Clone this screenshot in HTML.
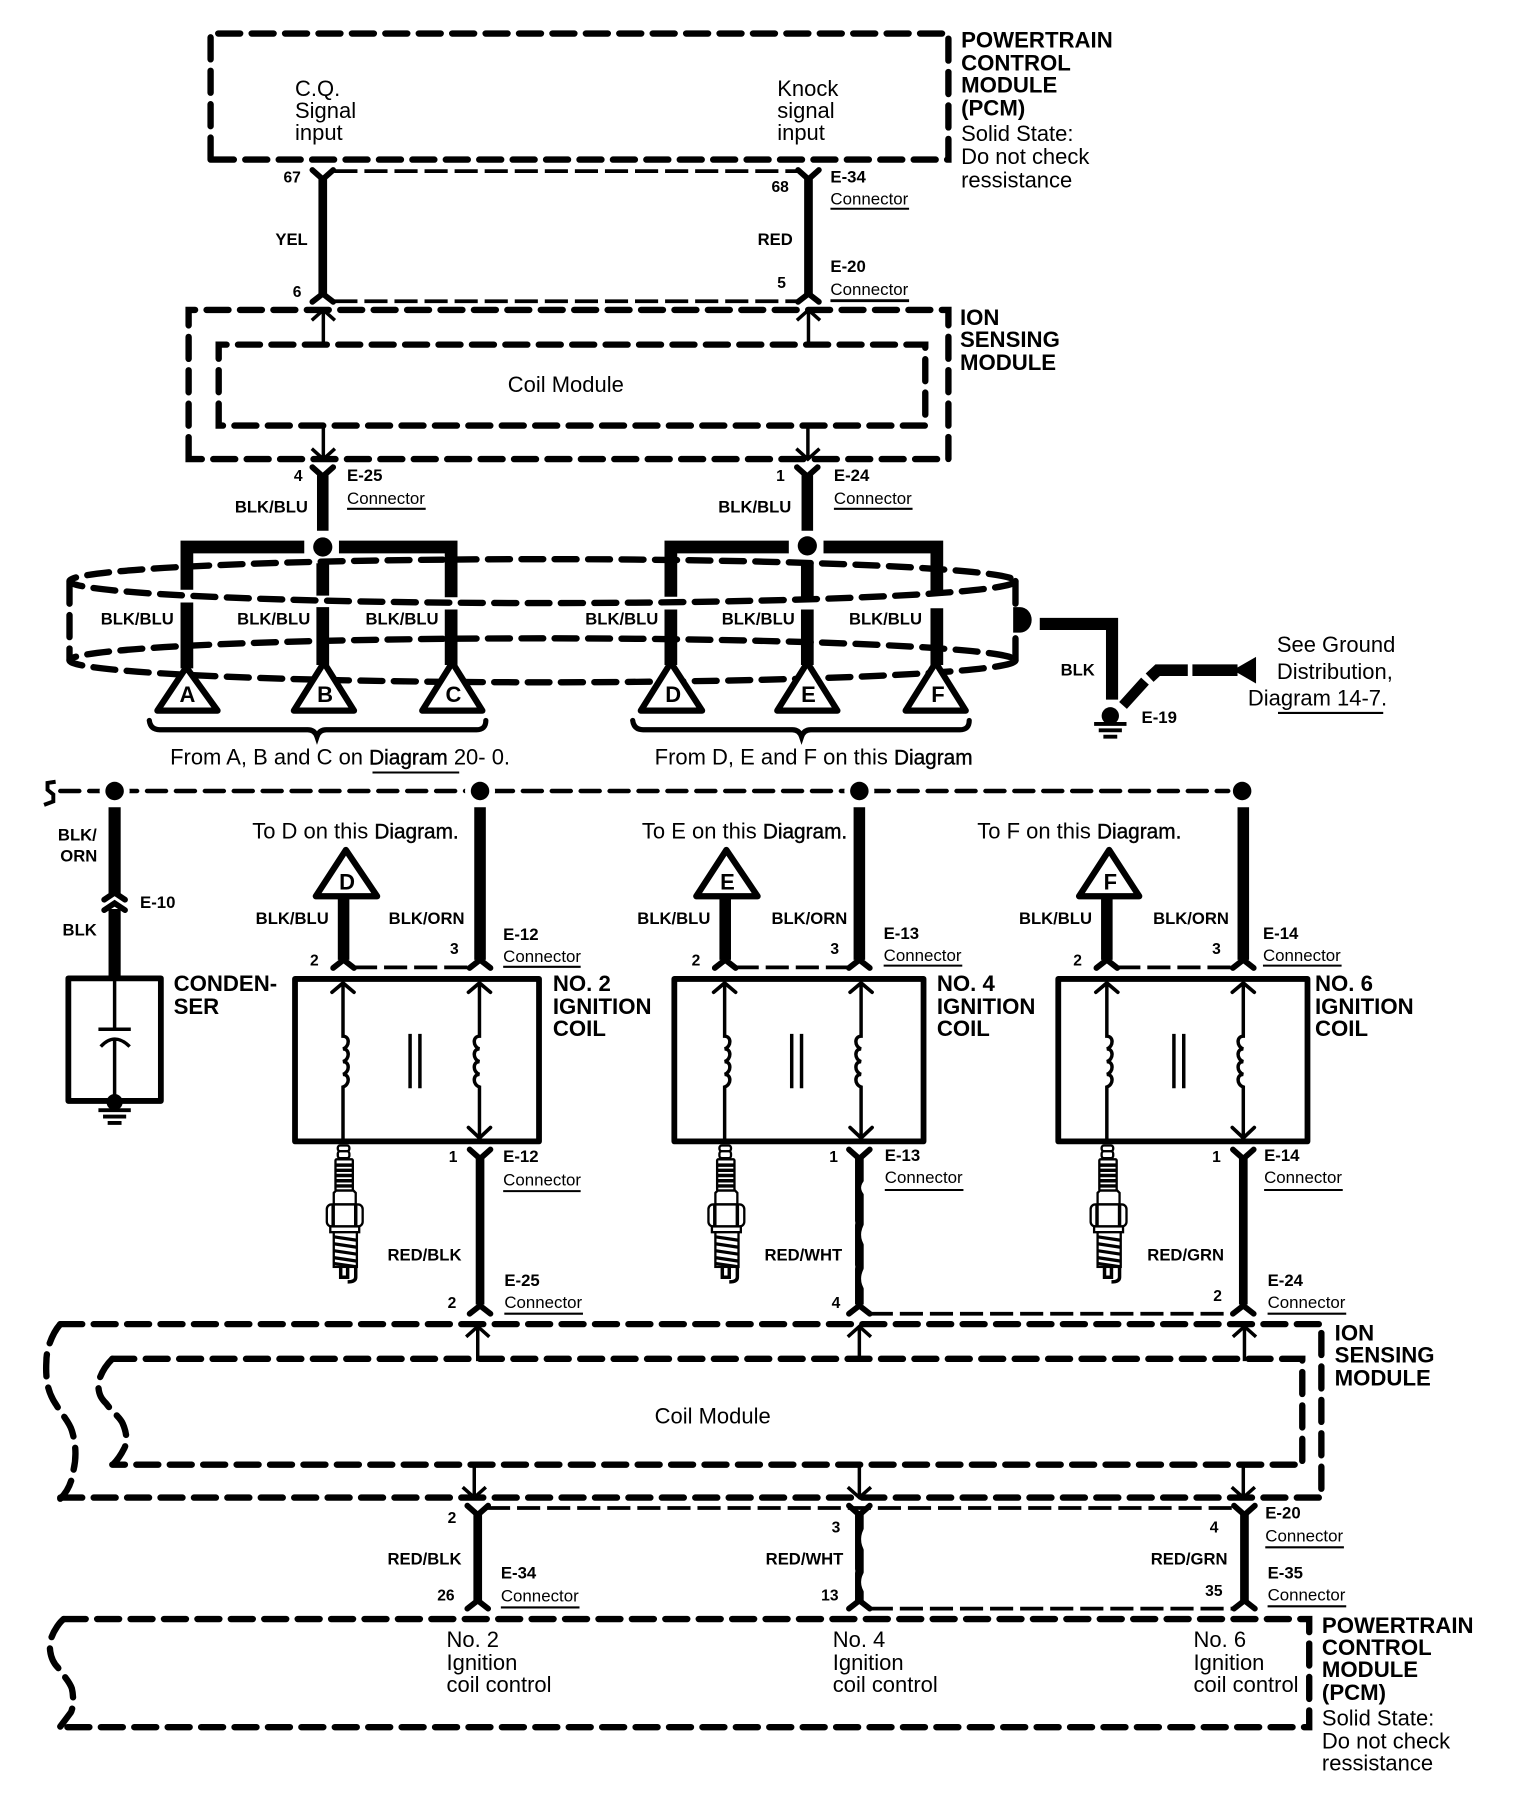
<!DOCTYPE html>
<html>
<head>
<meta charset="utf-8">
<title>Ignition coil wiring diagram</title>
<style>
html,body{margin:0;padding:0;background:#fff}
svg{display:block}
text{font-family:"Liberation Sans",Arial,sans-serif;fill:#000}
.h{font-weight:bold;font-size:19.2px}
.n{font-size:19px}
.b{font-weight:bold;font-size:14.4px}
.c{font-size:14.6px}
.p{font-weight:bold;font-size:13.5px}
.e{font-weight:bold;font-size:14.5px}
.t{font-weight:bold;font-size:19px;text-anchor:middle}
.d{font-size:18px;stroke:#000;stroke-width:.35}
.mod{fill:none;stroke:#000;stroke-width:5.5;stroke-linecap:round;stroke-dasharray:19 9.9}
.thin{fill:none;stroke:#000;stroke-width:3.2;stroke-dasharray:20 6}
.bus{fill:none;stroke:#000;stroke-width:3.8;stroke-linecap:round;stroke-dasharray:16.5 8.5}
.w{fill:none;stroke:#000;stroke-width:10}
.w8{fill:none;stroke:#000;stroke-width:7.5}
.a{fill:none;stroke:#000;stroke-width:3}
.y{fill:none;stroke:#000;stroke-width:5;stroke-linecap:round;stroke-linejoin:miter}
.tri{fill:#fff;stroke:#000;stroke-width:5.4;stroke-linejoin:round}
.u{stroke:#000;stroke-width:1.8}
.box{fill:none;stroke:#000;stroke-width:5;stroke-linejoin:round}
.sp{fill:#fff;stroke:#000;stroke-width:2}
</style>
</head>
<body>
<svg xmlns="http://www.w3.org/2000/svg" width="1536" height="1814" viewBox="0 0 1328 1568.6">
<defs>
<path id="yd" class="y" d="M-9,-5 L0,3 L9,-5"/>
<path id="yu" class="y" d="M-9,4 L0,-3 L9,4"/>
<path id="au" class="a" d="M-10,9 L0,0 L10,9 M0,0 V30"/>
<path id="ad" class="a" d="M-10,-9 L0,0 L10,-9 M0,0 V-30"/>
<g id="plug">
<rect class="sp" x="-4.5" y="1" width="10" height="5" rx="2"/>
<rect class="sp" x="-4.5" y="6" width="10" height="6" rx="2"/>
<rect class="sp" x="-6.5" y="13" width="15" height="27" rx="1"/>
<path class="a" d="M-6.5,18 H8.5 M-6.5,22.5 H8.5 M-6.5,27 H8.5 M-6.5,31.5 H8.5 M-6.5,36 H8.5"/>
<path class="sp" d="M-8,52 V42 L-6,40 H9 L11,42 V52 Z"/>
<rect class="sp" x="-14" y="52" width="31" height="19" rx="4"/>
<path class="a" d="M-8.5,52 V71 M11,52 V71"/>
<rect class="sp" x="-11" y="71" width="25" height="5"/>
<rect class="sp" x="-8" y="76" width="20" height="30"/>
<path fill="none" stroke="#000" stroke-width="2.8" d="M-8,80 L12,83 M-8,86 L12,89 M-8,92 L12,95 M-8,98 L12,101 M-8,103 L12,106"/>
<path class="a" d="M-2,106 V115 H4 V106 M11,106 V115 Q11,119 4,119"/>
</g>
<g id="coil">
<path class="a" d="M296.5,850 V896 c6,0 6,9 0,11 c6,0 6,9 0,11 c6,0 6,9 0,11 c6,0 6,9 0,11 V988"/>
<path class="a" d="M414.5,850 V896 c-6,0 -6,9 0,11 c-6,0 -6,9 0,11 c-6,0 -6,9 0,11 c-6,0 -6,9 0,11 V983"/>
<path class="y" style="stroke-width:3.2" d="M287,858 L296.5,850 L306,858 M405,858 L414.5,850 L424,858 M405,975 L414.5,984 L424,975"/>
<path class="a" d="M354.5,894 V941 M363,894 V941"/>
<use href="#plug" x="296.5" y="989.5"/>
</g>
<g id="gnd">
<path stroke="#000" stroke-width="3.4" d="M-14,8 H14 M-10,13.5 H10 M-6,19 H6"/>
</g>
</defs>

<!-- PCM top -->
<path class="mod" d="M182,138 V29 H820 V138 Z"/>
<text class="n" x="255" y="83">C.Q.</text>
<text class="n" x="255" y="102">Signal</text>
<text class="n" x="255" y="121">input</text>
<text class="n" x="672" y="83">Knock</text>
<text class="n" x="672" y="102">signal</text>
<text class="n" x="672" y="121">input</text>
<text class="h" x="831" y="41">POWERTRAIN</text>
<text class="h" x="831" y="61">CONTROL</text>
<text class="h" x="831" y="80">MODULE</text>
<text class="h" x="831" y="100">(PCM)</text>
<text class="n" x="831" y="122">Solid State:</text>
<text class="n" x="831" y="142">Do not check</text>
<text class="n" x="831" y="162">ressistance</text>

<!-- top wires -->
<path class="thin" d="M289,148 H691"/>
<path class="thin" d="M289,260.5 H691"/>
<path class="w8" d="M279,154 V256"/>
<path class="w8" d="M699,154 V256"/>
<use href="#yd" x="279" y="152"/>
<use href="#yd" x="699" y="152"/>
<use href="#yu" x="279" y="257"/>
<use href="#yu" x="699" y="257"/>
<text class="p" x="245" y="158">67</text>
<text class="p" x="667" y="166">68</text>
<text class="e" x="718" y="158">E-34</text>
<text class="c" x="718" y="177">Connector</text>
<line class="u" x1="718" x2="786" y1="180.5" y2="180.5"/>
<text class="b" x="238" y="212">YEL</text>
<text class="b" x="655" y="212">RED</text>
<text class="p" x="253" y="257">6</text>
<text class="p" x="672" y="249">5</text>
<text class="e" x="718" y="235">E-20</text>
<text class="c" x="718" y="255">Connector</text>
<line class="u" x1="718" x2="786" y1="260" y2="260" style="stroke-width:2.4"/>

<!-- ION module top -->
<path class="mod" d="M163,397 V268 H820 V397 Z"/>
<path class="mod" d="M189,368 V298 H800 V368 Z"/>
<use href="#au" x="279.5" y="268"/>
<use href="#au" x="699" y="268"/>
<use href="#ad" x="279.5" y="397"/>
<use href="#ad" x="698.5" y="397"/>
<text class="n" x="439" y="339">Coil Module</text>
<text class="h" x="830" y="281">ION</text>
<text class="h" x="830" y="300">SENSING</text>
<text class="h" x="830" y="320">MODULE</text>

<!-- connectors to junction -->
<path class="w" d="M279,411 V459"/>
<path class="w" d="M698,411 V459"/>
<use href="#yd" x="279" y="409"/>
<use href="#yd" x="698" y="409"/>
<text class="p" x="254" y="416">4</text>
<text class="p" x="671" y="416">1</text>
<text class="e" x="300" y="416">E-25</text>
<text class="c" x="300" y="436">Connector</text>
<line class="u" x1="300" x2="368" y1="440" y2="440"/>
<text class="e" x="721" y="416">E-24</text>
<text class="c" x="721" y="436">Connector</text>
<line class="u" x1="721" x2="789" y1="440" y2="440"/>
<text class="b" x="203" y="443">BLK/BLU</text>
<text class="b" x="621" y="443">BLK/BLU</text>

<!-- shield -->
<ellipse class="mod" cx="469" cy="502.5" rx="409" ry="19"/>
<ellipse class="mod" cx="469" cy="571" rx="409" ry="19"/>
<path class="mod" d="M60,503 V571"/>
<path class="mod" d="M878,503 V522 M878,552 V571"/>
<path d="M876,525 H882 A10,11 0 0 1 882,547 H876 Z"/>

<!-- harness A-F -->
<path class="w" style="stroke-width:11" d="M263,473 H161.5 V510 M293,473 H390 V516.5"/>
<path class="w" style="stroke-width:11" d="M682,473 H580 V516 M712,473 H810 V515"/>
<path class="w" style="stroke-width:11" d="M161.5,521 V578 M279,487 V515 M279,525 V575 M390,527 V575"/>
<path class="w" style="stroke-width:11" d="M580,527 V575 M698,487 V516 M698,527 V575 M810,526 V575"/>
<circle cx="279" cy="473" r="8.3"/>
<circle cx="698" cy="472" r="8.3"/>
<text class="b" x="87" y="540">BLK/BLU</text>
<text class="b" x="205" y="540">BLK/BLU</text>
<text class="b" x="316" y="540">BLK/BLU</text>
<text class="b" x="506" y="540">BLK/BLU</text>
<text class="b" x="624" y="540">BLK/BLU</text>
<text class="b" x="734" y="540">BLK/BLU</text>

<path class="tri" d="M161,577 L136,614.5 H188 Z"/>
<path class="tri" d="M280,573 L254,614.5 H306 Z"/>
<path class="tri" d="M391,573 L365,614.5 H417 Z"/>
<path class="tri" d="M580,573 L554,614.5 H607 Z"/>
<path class="tri" d="M698,573 L672,614.5 H724 Z"/>
<path class="tri" d="M809,573 L783,614.5 H835 Z"/>
<text class="t" x="162" y="607">A</text>
<text class="t" x="281" y="607">B</text>
<text class="t" x="392" y="607">C</text>
<text class="t" x="582" y="607">D</text>
<text class="t" x="699" y="607">E</text>
<text class="t" x="811" y="607">F</text>

<path class="y" style="stroke-width:4.5" d="M129,623 Q130,631 138,631 H266 Q272,631 274,637 Q276,631 282,631 H412 Q420,631 420,623"/>
<path class="y" style="stroke-width:4.5" d="M547,623 Q548,631 556,631 H685 Q691,631 693,637 Q695,631 701,631 H830 Q838,631 838,623"/>
<text class="n" x="147" y="661">From A, B and C on <tspan class="d">Diagram</tspan> 20- 0.</text>
<line class="u" x1="322" x2="397" y1="668" y2="668"/>
<text class="n" x="566" y="661">From D, E and F on this <tspan class="d">Diagram</tspan></text>

<!-- ground -->
<path class="w" style="stroke-width:10.5" d="M899,539.5 H961.5 V605"/>
<path class="w" style="stroke-width:9" d="M971,610 L990,589"/>
<path class="w" style="stroke-width:10" d="M994,586 L1001,579.5 H1027"/>
<path class="w" style="stroke-width:10" d="M1031,579.5 H1070"/>
<path d="M1066,579.5 L1086,568 V591 Z"/>
<circle cx="960" cy="619" r="7.5"/>
<use href="#gnd" x="960" y="618"/>
<text class="b" x="917" y="584">BLK</text>
<text class="e" x="987" y="625">E-19</text>
<text class="n" x="1104" y="564">See Ground</text>
<text class="n" x="1104" y="587">Distribution,</text>
<text class="n" x="1079" y="610">Diagram 14-7.</text>
<line class="u" x1="1105" x2="1196" y1="616.5" y2="616.5"/>

<!-- bus -->
<path class="bus" d="M52,684 H1062"/>
<path fill="none" stroke="#000" stroke-width="3.4" d="M48,676 L41,677 V683 L46,687 V693 L38,696"/>
<circle cx="99" cy="684" r="13" fill="#fff"/>
<circle cx="415" cy="684" r="13" fill="#fff"/>
<circle cx="743" cy="684" r="13" fill="#fff"/>
<circle cx="99" cy="684" r="8"/>
<circle cx="415" cy="684" r="8"/>
<circle cx="743" cy="684" r="8"/>
<circle cx="1074" cy="684" r="8"/>

<!-- condenser -->
<path class="w" style="stroke-width:10.5" d="M99,698 V774"/>
<path class="w" style="stroke-width:10.5" d="M99,786 V846"/>
<path class="y" d="M90,778 L99,772 L108,778"/>
<path class="y" d="M90,787 L99,781 L108,787"/>
<text class="b" x="50" y="727">BLK/</text>
<text class="b" x="52" y="745">ORN</text>
<text class="e" x="121" y="785">E-10</text>
<text class="b" x="54" y="809">BLK</text>
<rect class="box" x="59" y="846" width="80" height="106"/>
<path class="a" d="M99,848 V890 M85,890 H113 M87,905 Q99,892 112,905 M99,898 V948"/>
<circle cx="99" cy="953" r="7"/>
<use href="#gnd" x="99" y="952"/>
<text class="h" x="150" y="857">CONDEN-</text>
<text class="h" x="150" y="877">SER</text>

<!-- triangles above coils -->
<path class="w" d="M297,776 V830"/>
<path class="w" d="M627,776 V830"/>
<path class="w" d="M957,776 V830"/>
<path class="w" d="M415,698 V830"/>
<path class="w" d="M743,698 V830"/>
<path class="w" d="M1075,698 V830"/>
<path class="tri" d="M299,735 L273,775 H326 Z"/>
<path class="tri" d="M628,735 L602,775 H655 Z"/>
<path class="tri" d="M959,735 L933,775 H985 Z"/>
<text class="t" x="300" y="769">D</text>
<text class="t" x="629" y="769">E</text>
<text class="t" x="960" y="769">F</text>
<text class="n" x="218" y="725">To D on this <tspan class="d">Diagram.</tspan></text>
<text class="n" x="555" y="725">To E on this <tspan class="d">Diagram.</tspan></text>
<text class="n" x="845" y="725">To F on this <tspan class="d">Diagram.</tspan></text>

<!-- connector tops -->
<path class="thin" d="M306,836.5 H406"/>
<path class="thin" d="M636,836.5 H734"/>
<path class="thin" d="M966,836.5 H1066"/>
<use href="#yu" x="297" y="833"/><use href="#yu" x="415" y="833"/>
<use href="#yu" x="627" y="833"/><use href="#yu" x="743" y="833"/>
<use href="#yu" x="957" y="833"/><use href="#yu" x="1075" y="833"/>

<text class="b" x="221" y="799">BLK/BLU</text>
<text class="b" x="336" y="799">BLK/ORN</text>
<text class="b" x="551" y="799">BLK/BLU</text>
<text class="b" x="667" y="799">BLK/ORN</text>
<text class="b" x="881" y="799">BLK/BLU</text>
<text class="b" x="997" y="799">BLK/ORN</text>
<text class="p" x="268" y="835">2</text><text class="p" x="389" y="825">3</text>
<text class="p" x="598" y="835">2</text><text class="p" x="718" y="825">3</text>
<text class="p" x="928" y="835">2</text><text class="p" x="1048" y="825">3</text>
<text class="e" x="435" y="813">E-12</text><text class="c" x="435" y="832">Connector</text>
<line class="u" x1="435" x2="502" y1="836" y2="836"/>
<text class="e" x="764" y="812">E-13</text><text class="c" x="764" y="831">Connector</text>
<line class="u" x1="764" x2="832" y1="835" y2="835"/>
<text class="e" x="1092" y="812">E-14</text><text class="c" x="1092" y="831">Connector</text>
<line class="u" x1="1092" x2="1160" y1="835" y2="835"/>

<!-- coils -->
<rect class="box" x="255" y="846.5" width="211" height="140.5"/>
<rect class="box" x="583" y="846.5" width="215.5" height="140.5"/>
<rect class="box" x="915" y="846.5" width="215.5" height="140.5"/>
<use href="#coil"/>
<use href="#coil" x="330"/>
<use href="#coil" x="660.5"/>
<text class="h" x="478" y="857">NO. 2</text><text class="h" x="478" y="877">IGNITION</text><text class="h" x="478" y="896">COIL</text>
<text class="h" x="810" y="857">NO. 4</text><text class="h" x="810" y="877">IGNITION</text><text class="h" x="810" y="896">COIL</text>
<text class="h" x="1137" y="857">NO. 6</text><text class="h" x="1137" y="877">IGNITION</text><text class="h" x="1137" y="896">COIL</text>

<!-- coil outputs -->
<path class="w8" d="M415,1000 V1128"/>
<path class="w8" d="M743,1000 V1128"/>
<path class="w8" d="M1075,1000 V1128"/>
<path fill="#fff" d="M748,1020 Q741,1027 748,1034 Z M748,1057 Q741,1068 748,1078 Z M748,1095 Q741,1106 748,1116 Z M738,1054 Q741,1057 738,1062 Z M738,1092 Q741,1095 738,1100 Z"/>
<use href="#yd" x="415" y="999"/><use href="#yd" x="743" y="999"/><use href="#yd" x="1075" y="999"/>
<use href="#yu" x="415" y="1132"/><use href="#yu" x="743" y="1132"/><use href="#yu" x="1075" y="1132"/>
<path class="thin" d="M752,1136 H1066"/>
<text class="p" x="388" y="1005">1</text><text class="p" x="717" y="1005">1</text><text class="p" x="1048" y="1005">1</text>
<text class="e" x="435" y="1005">E-12</text><text class="c" x="435" y="1025">Connector</text>
<line class="u" x1="435" x2="502" y1="1030" y2="1030"/>
<text class="e" x="765" y="1004">E-13</text><text class="c" x="765" y="1023">Connector</text>
<line class="u" x1="765" x2="833" y1="1029" y2="1029"/>
<text class="e" x="1093" y="1004">E-14</text><text class="c" x="1093" y="1023">Connector</text>
<line class="u" x1="1093" x2="1161" y1="1029" y2="1029"/>
<text class="b" x="335" y="1090">RED/BLK</text>
<text class="b" x="661" y="1090">RED/WHT</text>
<text class="b" x="992" y="1090">RED/GRN</text>
<text class="e" x="436" y="1112">E-25</text><text class="c" x="436" y="1131">Connector</text>
<line class="u" x1="436" x2="504" y1="1136" y2="1136"/>
<text class="e" x="1096" y="1112">E-24</text><text class="c" x="1096" y="1131">Connector</text>
<line class="u" x1="1096" x2="1164" y1="1136" y2="1136"/>
<text class="p" x="387" y="1131">2</text><text class="p" x="719" y="1131">4</text><text class="p" x="1049" y="1125">2</text>

<!-- ION lower -->
<path class="mod" d="M52,1145 H1142.5 V1295 H52"/>
<path class="mod" d="M52,1145 C46,1152 40,1165 40,1177 C39,1195 42,1205 48,1214 C54,1224 60,1230 62,1237 C66,1250 66,1262 63,1273 C62,1282 58,1290 52,1296"/>
<path class="mod" d="M97,1175 H1126 V1266.5 H97"/>
<path class="mod" d="M97,1175 C92,1180 85,1190 85,1198 C85,1206 88,1210 92,1214 C98,1222 104,1226 106,1231 C110,1240 110,1248 107,1253 C104,1259 101,1263 97,1267"/>
<use href="#au" x="413" y="1147"/><use href="#au" x="743" y="1147"/><use href="#au" x="1076" y="1147"/>
<use href="#ad" x="410" y="1295"/><use href="#ad" x="743" y="1295"/><use href="#ad" x="1075" y="1295"/>
<text class="n" x="566" y="1231">Coil Module</text>
<text class="h" x="1154" y="1159">ION</text>
<text class="h" x="1154" y="1178">SENSING</text>
<text class="h" x="1154" y="1198">MODULE</text>

<!-- lower wires -->
<path class="thin" d="M421,1304 H1068"/>
<path class="thin" d="M752,1391 H1066"/>
<path class="w8" d="M413,1308 V1384"/>
<path class="w8" d="M743,1308 V1384"/>
<path class="w8" d="M1076,1308 V1384"/>
<path fill="#fff" d="M748,1320 Q741,1331 748,1342 Z M748,1358 Q741,1368 748,1378 Z M738,1355 Q741,1358 738,1363 Z"/>
<use href="#yd" x="413" y="1307"/><use href="#yd" x="743" y="1307"/><use href="#yd" x="1076" y="1307"/>
<use href="#yu" x="413" y="1387"/><use href="#yu" x="743" y="1387"/><use href="#yu" x="1076" y="1387"/>
<text class="p" x="387" y="1317">2</text><text class="p" x="719" y="1325">3</text><text class="p" x="1046" y="1325">4</text>
<text class="e" x="1094" y="1313">E-20</text><text class="c" x="1094" y="1333">Connector</text>
<line class="u" x1="1094" x2="1162" y1="1338" y2="1338"/>
<text class="b" x="335" y="1353">RED/BLK</text>
<text class="b" x="662" y="1353">RED/WHT</text>
<text class="b" x="995" y="1353">RED/GRN</text>
<text class="e" x="433" y="1365">E-34</text><text class="c" x="433" y="1385">Connector</text>
<line class="u" x1="433" x2="501" y1="1390" y2="1390"/>
<text class="e" x="1096" y="1365">E-35</text><text class="c" x="1096" y="1384">Connector</text>
<line class="u" x1="1096" x2="1164" y1="1389" y2="1389"/>
<text class="p" x="378" y="1384">26</text><text class="p" x="710" y="1384">13</text><text class="p" x="1042" y="1380">35</text>

<!-- PCM lower -->
<path class="mod" d="M55,1400 H1132 V1493.5 H52"/>
<path class="mod" d="M55,1400 C50,1404 43,1415 43,1423 C43,1432 46,1438 50,1442 C54,1448 60,1454 62,1460 C64,1468 63,1478 61,1481 L52,1493"/>
<text class="n" x="386" y="1424">No. 2</text><text class="n" x="386" y="1444">Ignition</text><text class="n" x="386" y="1463">coil control</text>
<text class="n" x="720" y="1424">No. 4</text><text class="n" x="720" y="1444">Ignition</text><text class="n" x="720" y="1463">coil control</text>
<text class="n" x="1032" y="1424">No. 6</text><text class="n" x="1032" y="1444">Ignition</text><text class="n" x="1032" y="1463">coil control</text>
<text class="h" x="1143" y="1412">POWERTRAIN</text>
<text class="h" x="1143" y="1431">CONTROL</text>
<text class="h" x="1143" y="1450">MODULE</text>
<text class="h" x="1143" y="1470">(PCM)</text>
<text class="n" x="1143" y="1492">Solid State:</text>
<text class="n" x="1143" y="1512">Do not check</text>
<text class="n" x="1143" y="1531">ressistance</text>
</svg>
</body>
</html>
